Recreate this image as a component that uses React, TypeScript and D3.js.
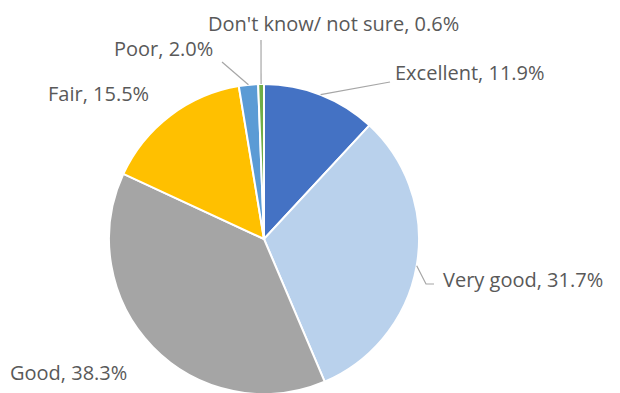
import React from "react";
import * as d3 from "d3";

const categories = ["Excellent", "Very good", "Good", "Fair", "Poor", "Don't know/ not sure"];
const values = [11.9, 31.7, 38.3, 15.5, 2.0, 0.6];
const colors = ["#4472C4", "#B9D1EC", "#A5A5A5", "#FFC000", "#5B9BD5", "#70AD47"];

// label layout: text anchor (start x, baseline y) and leader-line waypoints
const labelLayout: { x: number; y: number; leader: [number, number][] | null }[] = [
  { x: 395, y: 80, leader: [[390, 82]] },
  { x: 443, y: 287, leader: [[426, 284], [434, 284]] },
  { x: 10, y: 380, leader: null },
  { x: 48, y: 101, leader: null },
  { x: 114, y: 56, leader: [[222, 62]] },
  { x: 208, y: 31, leader: [[261, 40]] },
];

const W = 620;
const H = 393;
const cx = 264;
const cy = 239;
const R = 155;

export default function App() {
  const data = categories.map((c, i) => ({ name: c, value: values[i], color: colors[i], i }));
  const pie = d3.pie<any>().value((d) => d.value).sort(null);
  const arcs = pie(data);
  const arc = d3.arc<any>().innerRadius(0).outerRadius(R);
  const edgeArc = d3.arc<any>().innerRadius(R).outerRadius(R);

  return (
    <svg
      width={W}
      height={H}
      style={{ position: "absolute", left: 0, top: 0, background: "#fff" }}
      fontFamily="'Open Sans', sans-serif"
    >
      <rect width={W} height={H} fill="#fff" />
      <g transform={`translate(${cx},${cy})`}>
        {arcs.map((a) => (
          <path key={a.data.name} d={arc(a) as string} fill={a.data.color} stroke="#fff" strokeWidth={2} />
        ))}
      </g>
      {arcs.map((a, i) => {
        const lay = labelLayout[i];
        if (!lay.leader) return null;
        const [ex, ey] = edgeArc.centroid(a);
        const pts: [number, number][] = [[cx + ex, cy + ey], ...lay.leader];
        return (
          <path
            key={"l" + i}
            d={d3.line()(pts) as string}
            fill="none"
            stroke="#A6A6A6"
            strokeWidth={1.2}
          />
        );
      })}
      {arcs.map((a, i) => {
        const lay = labelLayout[i];
        return (
          <text key={"t" + i} x={lay.x} y={lay.y} fontSize={20} fill="#595959">
            {`${a.data.name}, ${a.data.value.toFixed(1)}%`}
          </text>
        );
      })}
    </svg>
  );
}
